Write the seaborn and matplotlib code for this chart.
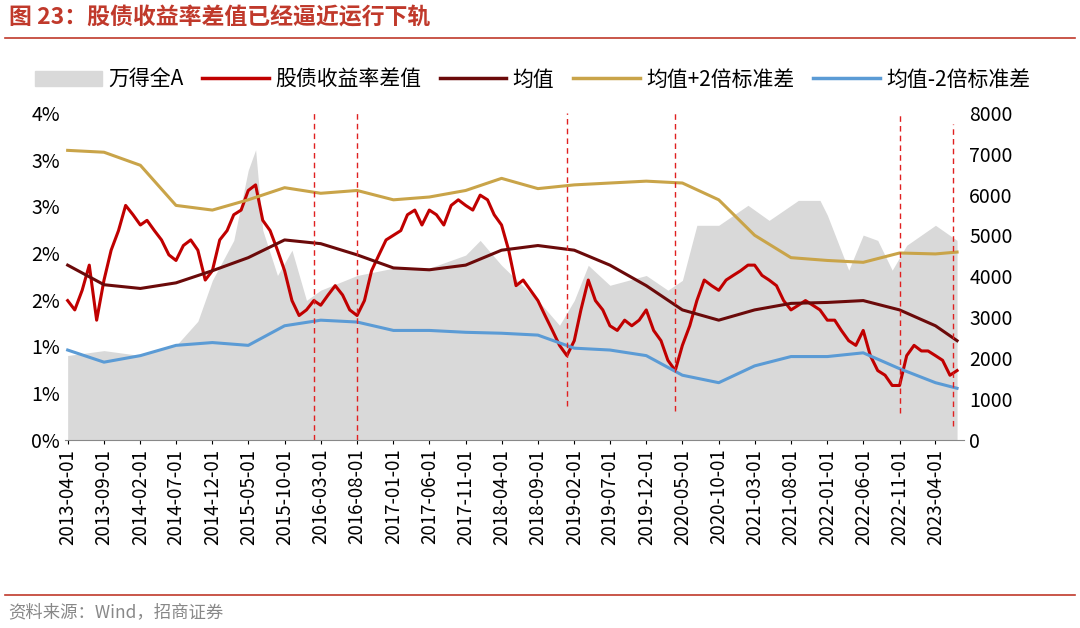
import matplotlib
matplotlib.use("Agg")
import matplotlib.pyplot as plt
import matplotlib.dates as mdates
import matplotlib.ticker as mticker
import numpy as np
import pandas as pd
import seaborn as sns

plt.rcParams["font.family"] = "Noto Sans CJK SC"

# ==========================================================
# Data
# ==========================================================

spread_start = "2013-04-01"
spread = [1.49, 1.39, 1.60, 1.87, 1.28, 1.71, 2.03, 2.24, 2.51, 2.41,
          2.30, 2.35, 2.24, 2.14, 1.98, 1.92, 2.08, 2.14, 2.03, 1.71,
          1.81, 2.14, 2.24, 2.41, 2.46, 2.67, 2.73, 2.35, 2.24, 2.03,
          1.81, 1.49, 1.33, 1.39, 1.49, 1.44, 1.55, 1.65, 1.55, 1.39,
          1.33, 1.49, 1.81, 1.98, 2.14, 2.19, 2.24, 2.41, 2.46, 2.30,
          2.46, 2.41, 2.30, 2.51, 2.57, 2.51, 2.46, 2.62, 2.57, 2.41,
          2.30, 2.03, 1.65, 1.71, 1.60, 1.49, 1.33, 1.17, 1.01, 0.90,
          1.06, 1.39, 1.71, 1.49, 1.39, 1.22, 1.17, 1.28, 1.22, 1.28,
          1.39, 1.17, 1.06, 0.85, 0.74, 1.01, 1.22, 1.49, 1.71, 1.65,
          1.60, 1.71, 1.76, 1.81, 1.87, 1.87, 1.76, 1.71, 1.65, 1.49,
          1.39, 1.44, 1.49, 1.44, 1.39, 1.28, 1.28, 1.17, 1.06, 1.01,
          1.17, 0.90, 0.74, 0.69, 0.58, 0.58, 0.90, 1.01, 0.95, 0.95,
          0.90, 0.85, 0.69, 0.74]

band_dates = ["2013-04-01", "2013-09-01", "2014-02-01", "2014-07-01", "2014-12-01",
              "2015-05-01", "2015-10-01", "2016-03-01", "2016-08-01", "2017-01-01",
              "2017-06-01", "2017-11-01", "2018-04-01", "2018-09-01", "2019-02-01",
              "2019-07-01", "2019-12-01", "2020-05-01", "2020-10-01", "2021-03-01",
              "2021-08-01", "2022-01-01", "2022-06-01", "2022-11-01", "2023-04-01",
              "2023-07-01"]
mean_vals = [1.87, 1.66, 1.62, 1.68, 1.81, 1.95, 2.14, 2.10, 1.98, 1.84,
             1.82, 1.87, 2.03, 2.08, 2.03, 1.87, 1.65, 1.39, 1.28, 1.39,
             1.46, 1.47, 1.49, 1.39, 1.22, 1.06]
upper_vals = [3.10, 3.08, 2.94, 2.51, 2.46, 2.57, 2.70, 2.64, 2.67, 2.57,
              2.60, 2.67, 2.80, 2.69, 2.73, 2.75, 2.77, 2.75, 2.57, 2.19,
              1.95, 1.92, 1.90, 2.00, 1.99, 2.01]
lower_vals = [0.96, 0.83, 0.90, 1.01, 1.04, 1.01, 1.22, 1.28, 1.26, 1.17,
              1.17, 1.15, 1.14, 1.12, 0.98, 0.96, 0.90, 0.69, 0.61, 0.79,
              0.89, 0.89, 0.93, 0.76, 0.61, 0.55]

index_dates = ["2013-04-01", "2013-09-01", "2014-02-01", "2014-07-01", "2014-10-01",
               "2014-12-01", "2015-03-01", "2015-05-01", "2015-06-01", "2015-07-01",
               "2015-09-01", "2015-11-01", "2016-01-01", "2016-03-01", "2016-08-01",
               "2017-01-01", "2017-06-01", "2017-11-01", "2018-01-01", "2018-04-01",
               "2018-09-01", "2018-12-01", "2019-02-01", "2019-04-01", "2019-07-01",
               "2019-12-01", "2020-03-01", "2020-05-01", "2020-07-01", "2020-10-01",
               "2021-02-01", "2021-05-01", "2021-09-01", "2021-12-01", "2022-01-01",
               "2022-04-01", "2022-06-01", "2022-08-01", "2022-10-01", "2022-12-01",
               "2023-04-01", "2023-07-01"]
index_vals = [2060, 2180, 2060, 2300, 2900, 3900, 4880, 6600, 7100, 5130,
              4020, 4640, 3410, 3660, 4020, 4200, 4200, 4520, 4880, 4270,
              3410, 2800, 3410, 4270, 3780, 4020, 3660, 3900, 5250, 5250,
              5740, 5370, 5860, 5860, 5500, 4150, 5010, 4880, 4150, 4760,
              5250, 4880]

vline_dates = ["2016-02-01", "2016-08-01", "2019-01-01", "2020-04-01", "2022-11-01", "2023-06-15"]
vline_bottom = [0.0, 0.0, 0.36, 0.31, 0.28, 0.15]
vline_top = [3.5, 3.5, 3.5, 3.5, 3.5, 3.38]

# ==========================================================
# Frames
# ==========================================================

spread_df = pd.DataFrame({"date": pd.date_range(spread_start, periods=len(spread), freq="MS"),
                          "val": spread})
band_df = pd.DataFrame({"date": pd.to_datetime(band_dates), "mean": mean_vals,
                        "upper": upper_vals, "lower": lower_vals})
idx_df = pd.DataFrame({"date": pd.to_datetime(index_dates), "val": index_vals})

RED, DARK, GOLD, BLUE, GREY = "#c00000", "#6b0a0a", "#c9a449", "#5b9bd5", "#d9d9d9"

# ==========================================================
# Plot
# ==========================================================

fig = plt.figure(figsize=(10.8, 6.28), dpi=100)
ax = fig.add_axes([0.060, 0.30, 0.833, 0.52])
ax2 = ax.twinx()
ax.set_zorder(2)
ax.patch.set_visible(False)

ax2.fill_between(idx_df["date"], idx_df["val"], color=GREY, lw=0)
ax2.set_ylim(0, 8000)
ax2.yaxis.set_major_locator(mticker.MultipleLocator(1000))

sns.lineplot(data=spread_df, x="date", y="val", ax=ax, color=RED, lw=2.2)
sns.lineplot(data=band_df, x="date", y="mean", ax=ax, color=DARK, lw=2.2)
sns.lineplot(data=band_df, x="date", y="upper", ax=ax, color=GOLD, lw=2.2)
sns.lineplot(data=band_df, x="date", y="lower", ax=ax, color=BLUE, lw=2.2)

for d, b, t in zip(vline_dates, vline_bottom, vline_top):
    ax.vlines(pd.Timestamp(d), b, t, colors="#e02020", linestyles=(0, (4, 3)), lw=1)

ax.set_ylim(0, 3.5)
ax.yaxis.set_major_locator(mticker.MultipleLocator(0.5))
ax.yaxis.set_major_formatter(mticker.FuncFormatter(lambda v, p: f"{int(np.floor(v + 0.5))}%"))
ax.set_xlim(pd.Timestamp("2013-03-20"), pd.Timestamp("2023-08-01"))
ticks = pd.date_range("2013-04-01", "2023-04-01", freq="5MS")
ax.set_xticks(ticks)
ax.set_xticklabels([t.strftime("%Y-%m-%d") for t in ticks], rotation=90, fontsize=13.5)
ax.set_xlabel("")
ax.set_ylabel("")
ax.tick_params(axis="y", labelsize=14, length=0)
ax2.tick_params(axis="y", labelsize=14, length=0)
ax.tick_params(axis="x", length=3)
for a in (ax, ax2):
    for s in ("top", "right", "left"):
        a.spines[s].set_visible(False)
ax2.spines["bottom"].set_visible(False)
ax.spines["bottom"].set_color("#888888")

handles = [plt.Rectangle((0, 0), 1, 1, color=GREY),
           plt.Line2D([], [], color=RED, lw=2.5),
           plt.Line2D([], [], color=DARK, lw=2.5),
           plt.Line2D([], [], color=GOLD, lw=2.5),
           plt.Line2D([], [], color=BLUE, lw=2.5)]
labels = ["万得全A", "股债收益率差值", "均值", "均值+2倍标准差", "均值-2倍标准差"]
fig.legend(handles, labels, loc="center left", bbox_to_anchor=(0.015, 0.873), ncol=5,
           frameon=False, fontsize=15, handlelength=3.2, columnspacing=0.9, handletextpad=0.3)

fig.text(0.008, 0.972, "图 23：股债收益率差值已经逼近运行下轨", color="#c0392b",
         fontsize=16.5, fontweight="bold", va="center")
fig.add_artist(plt.Line2D([0.005, 0.995], [0.94, 0.94], color="#c0392b", lw=1.2))
fig.add_artist(plt.Line2D([0.005, 0.995], [0.052, 0.052], color="#c0392b", lw=1.2))
fig.text(0.008, 0.026, "资料来源：Wind，招商证券", color="#888888", fontsize=12.5, va="center")

fig.savefig("out.png", dpi=100)
